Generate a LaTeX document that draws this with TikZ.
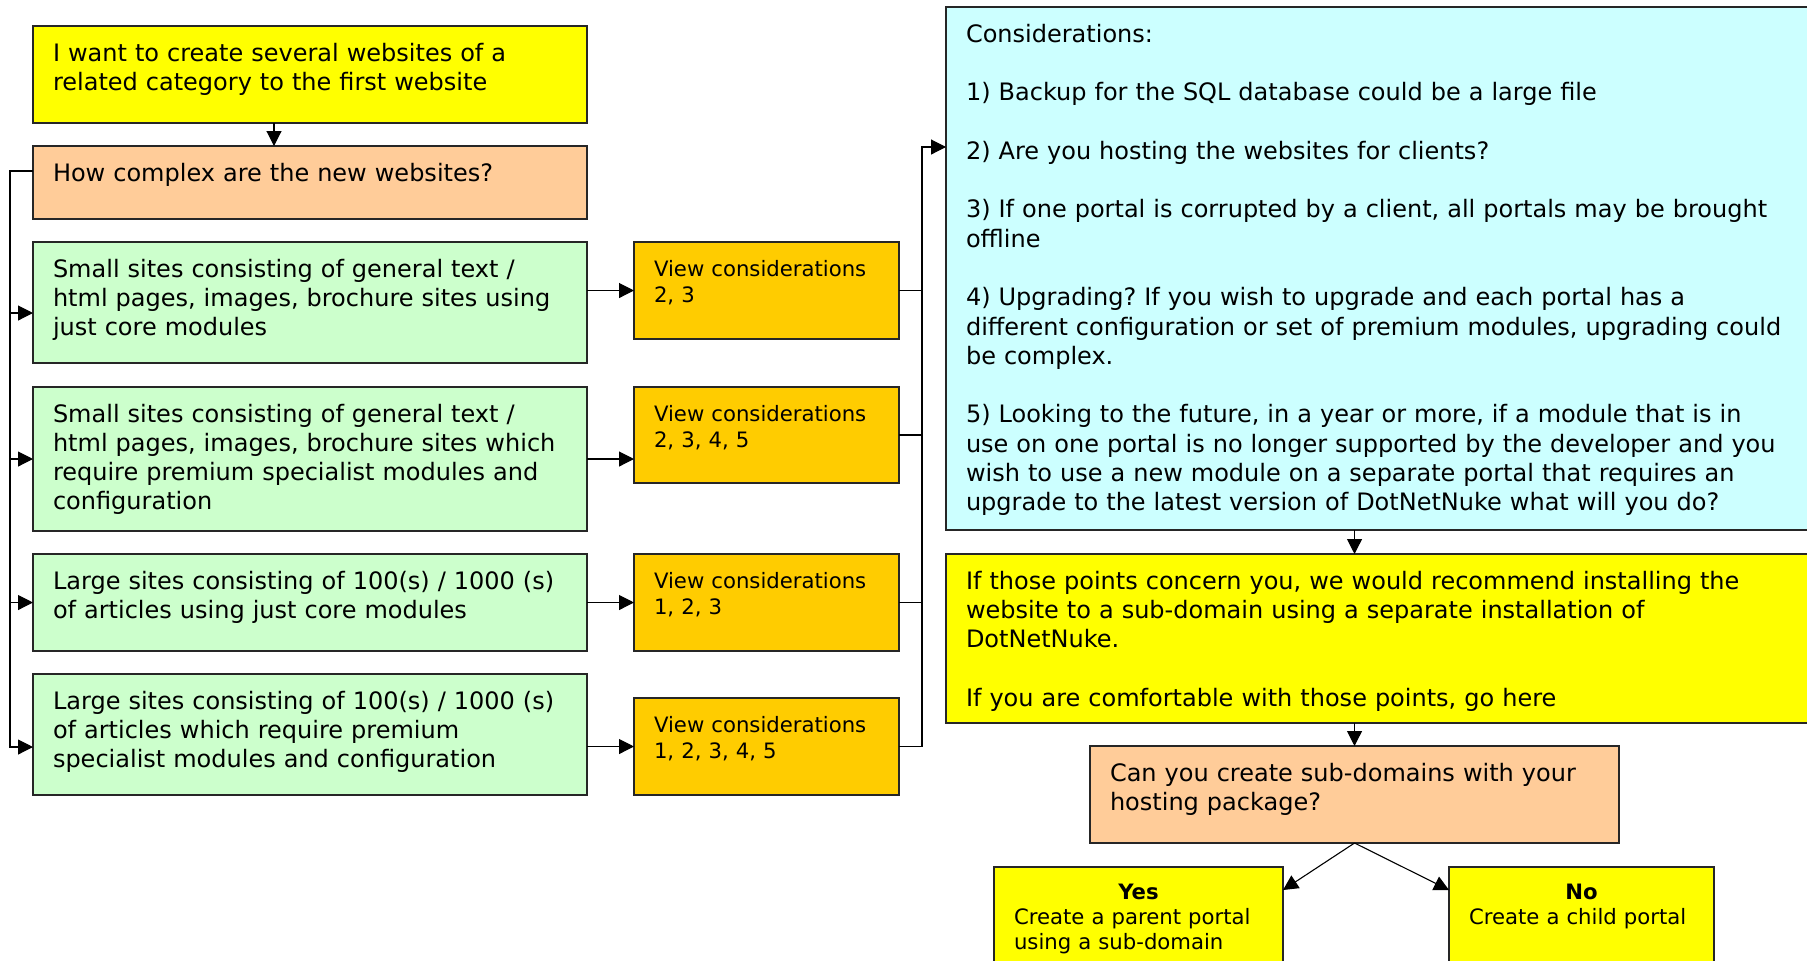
\documentclass[tikz,border=0pt]{standalone}
\usepackage{fontspec}
\setmainfont{DejaVu Sans}
\usetikzlibrary{arrows.meta}
\frenchspacing

\definecolor{wantyellow}{HTML}{FFFF00}
\definecolor{askorange}{HTML}{FFCC99}
\definecolor{sitegreen}{HTML}{CCFFCC}
\definecolor{viewgold}{HTML}{FFCC00}
\definecolor{notecyan}{HTML}{CCFFFF}

\newcommand{\boxfont}{\fontsize{12pt}{14.65pt}\selectfont}
\newcommand{\notefont}{\fontsize{10.6pt}{12.7pt}\selectfont}

\begin{document}
\begin{tikzpicture}[
    x=0.5pt, y=-0.5pt,
    box/.style={draw=black!85, line width=0.65pt, anchor=north west, align=left,
      inner xsep=10pt, inner ysep=7.5pt, outer sep=0pt},
    big/.style={box, font=\boxfont, text height=10pt},
    note/.style={box, font=\notefont, text height=9.8pt},
    line/.style={draw=black, line width=0.55pt},
    arr/.style={line, -{Triangle[length=7.5pt,width=7.5pt]}}
  ]

    \path[use as bounding box, fill=white] (0,0) rectangle (1807,960);
    \clip (0,0) rectangle (1807,960);

    % left column
    \node[big, fill=wantyellow, text width=257pt, text depth=23.5pt] (want) at (33,26)
      {I want to create several websites of a\\ related category to the first website};
    \node[big, fill=askorange, text width=257pt, text depth=11.5pt] (complex) at (33,146)
      {How complex are the new websites?};
    \node[big, fill=sitegreen, text width=257pt, text depth=35.5pt] (small1) at (33,242)
      {Small sites consisting of general text /\\ html pages, images, brochure sites using\\ just core modules};
    \node[big, fill=sitegreen, text width=257pt, text depth=47pt] (small2) at (33,387)
      {Small sites consisting of general text /\\ html pages, images, brochure sites which\\ require premium specialist modules and\\ configuration};
    \node[big, fill=sitegreen, text width=257pt, text depth=23.5pt] (large1) at (33,554)
      {Large sites consisting of 100(s) / 1000 (s)\\ of articles using just core modules};
    \node[big, fill=sitegreen, text width=257pt, text depth=35.5pt] (large2) at (33,674)
      {Large sites consisting of 100(s) / 1000 (s)\\ of articles which require premium\\ specialist modules and configuration};

    % considerations to view
    \node[note, fill=viewgold, text width=112.5pt, text depth=23.7pt] (v1) at (634,242)
      {View considerations\\ 2, 3};
    \node[note, fill=viewgold, text width=112.5pt, text depth=23.2pt] (v2) at (634,387)
      {View considerations\\ 2, 3, 4, 5};
    \node[note, fill=viewgold, text width=112.5pt, text depth=23.7pt] (v3) at (634,554)
      {View considerations\\ 1, 2, 3};
    \node[note, fill=viewgold, text width=112.5pt, text depth=23.7pt] (v4) at (634,698)
      {View considerations\\ 1, 2, 3, 4, 5};

    % right column
    \node[big, fill=notecyan, text width=427pt, text depth=236.5pt] (consider) at (946,7)
      {Considerations:\\[\baselineskip]
       1) Backup for the SQL database could be a large file\\[\baselineskip]
       2) Are you hosting the websites for clients?\\[\baselineskip]
       3) If one portal is corrupted by a client, all portals may be brought\\ offline\\[\baselineskip]
       4) Upgrading? If you wish to upgrade and each portal has a\\ different configuration or set of premium modules, upgrading could\\ be complex.\\[\baselineskip]
       5) Looking to the future, in a year or more, if a module that is in\\ use on one portal is no longer supported by the developer and you\\ wish to use a new module on a separate portal that requires an\\ upgrade to the latest version of DotNetNuke what will you do?};
    \node[big, fill=wantyellow, text width=427pt, text depth=59.5pt] (recommend) at (946,554)
      {If those points concern you, we would recommend installing the\\ website to a sub-domain using a separate installation of\\ DotNetNuke.\\[\baselineskip]
       If you are comfortable with those points, go here};
    \node[big, fill=askorange, text width=244.5pt, text depth=23.5pt] (sub) at (1090,746)
      {Can you create sub-domains with your\\ hosting package?};
    \node[note, fill=wantyellow, text width=124.5pt, text height=8.5pt, text depth=43pt] (yes) at (994,867)
      {\makebox[\linewidth]{\textbf{Yes}}\\ Create a parent portal\\ using a sub-domain};
    \node[note, fill=wantyellow, text width=112.5pt, text height=8.5pt, text depth=43pt] (no) at (1449,867)
      {\makebox[\linewidth]{\textbf{No}}\\ Create a child portal};

    % connectors
    \coordinate (trunk) at (10,171);
    \coordinate (bus) at (922,147);
    \coordinate (in1) at ([yshift=-5.25pt]small1.west);
    \coordinate (in4) at ([yshift=-6.25pt]large2.west);

    \draw[arr] ([xshift=-18pt]want.south) -- ([xshift=-18pt]complex.north);
    \draw[arr] ([yshift=5.75pt]complex.west) -- (trunk) |- (in4);
    \draw[arr] (trunk |- in1) -- (in1);
    \draw[arr] (trunk |- small2.west) -- (small2.west);
    \draw[arr] (trunk |- large1.west) -- (large1.west);

    \draw[arr] (small1.east |- v1.west) -- (v1.west);
    \draw[arr] (small2.east) -- (small2.east -| v2.west);
    \draw[arr] (large1.east) -- (v3.west);
    \draw[arr] (large2.east |- v4.west) -- (v4.west);

    \draw[arr] (v4.east) -| (bus) -- (consider.west |- bus);
    \draw[line] (v1.east) -- (v1.east -| bus);
    \draw[line] (v2.east) -- (v2.east -| bus);
    \draw[line] (v3.east) -- (v3.east -| bus);

    \draw[arr] (consider.south -| sub.north) -- (recommend.north -| sub.north);
    \draw[arr] (recommend.south -| sub.north) -- (sub.north);
    \draw[arr] (sub.south) -- ([yshift=-11.5pt]yes.north east);
    \draw[arr] (sub.south) -- ([yshift=-11.5pt]no.north west);

\end{tikzpicture}
\end{document}
